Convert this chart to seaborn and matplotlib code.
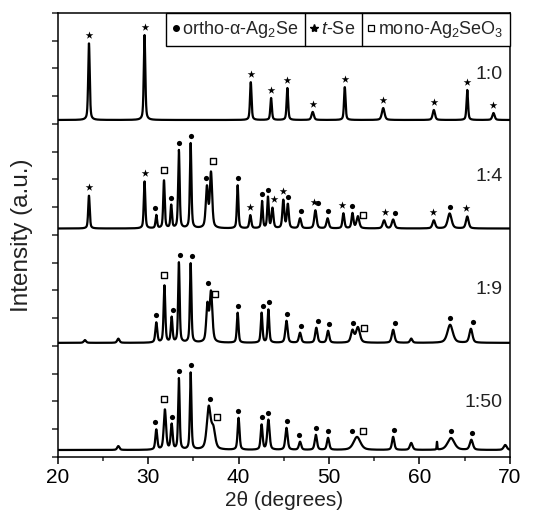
import numpy as np
import pandas as pd
import matplotlib
matplotlib.use('Agg')
import matplotlib.pyplot as plt
from matplotlib.lines import Line2D
import seaborn as sns

# samples (top to bottom) and the vertical offset of each pattern
samples = ['1:0', '1:4', '1:9', '1:50']
offsets = [12.14, 8.23, 4.11, 0.25]

# peaks: position (2theta), height (a.u.), FWHM (deg)
pos_10 = [23.45, 29.6, 41.35, 43.6, 45.4, 48.2, 51.75, 56.0, 61.6, 65.3, 68.2]
hgt_10 = [2.78, 3.06, 1.37, 0.79, 1.15, 0.29, 1.19, 0.43, 0.36, 1.08, 0.25]
wid_10 = [0.2, 0.2, 0.2, 0.2, 0.2, 0.3, 0.2, 0.35, 0.3, 0.2, 0.3]

pos_14 = [23.45, 29.6, 30.9, 31.75, 32.55, 33.4, 34.7, 36.5, 36.95, 39.9, 41.3, 42.6,
          43.25, 43.75, 44.95, 45.45, 46.8, 48.5, 49.85, 51.6, 52.6, 53.2, 56.1,
          57.1, 61.6, 63.35, 65.3]
hgt_14 = [1.19, 1.69, 0.47, 1.73, 0.83, 2.81, 3.06, 1.45, 1.98, 1.55, 0.47, 0.97,
          1.12, 0.72, 1.01, 0.86, 0.36, 0.65, 0.36, 0.54, 0.54, 0.43, 0.29,
          0.32, 0.29, 0.54, 0.43]
wid_14 = [0.2, 0.2, 0.2, 0.2, 0.2, 0.2, 0.2, 0.3, 0.3, 0.2, 0.25, 0.2,
          0.2, 0.25, 0.25, 0.25, 0.3, 0.3, 0.3, 0.25, 0.25, 0.35, 0.35,
          0.35, 0.35, 0.5, 0.35]

pos_19 = [23.0, 26.7, 30.9, 31.8, 32.6, 33.4, 34.7, 36.55, 36.95, 39.9, 42.55, 43.3,
          45.3, 46.8, 48.6, 49.9, 52.6, 53.2, 57.1, 59.1, 63.4, 65.7]
hgt_19 = [0.1, 0.15, 0.72, 2.05, 0.9, 2.88, 2.85, 1.3, 1.8, 1.08, 1.08, 1.19,
          0.79, 0.36, 0.54, 0.43, 0.43, 0.55, 0.47, 0.15, 0.65, 0.5]
wid_19 = [0.3, 0.3, 0.25, 0.22, 0.22, 0.2, 0.2, 0.3, 0.35, 0.22, 0.22, 0.22,
          0.3, 0.3, 0.3, 0.3, 0.4, 0.5, 0.35, 0.3, 0.7, 0.4]

pos_150 = [26.7, 30.9, 31.85, 32.6, 33.4, 34.7, 36.7, 37.2, 40.0, 42.55, 43.3, 45.3,
           46.8, 48.55, 49.9, 53.1, 57.1, 59.1, 61.95, 63.5, 65.75, 69.5]
hgt_150 = [0.14, 0.72, 1.44, 0.9, 2.56, 2.77, 1.5, 0.7, 1.15, 0.9, 1.08, 0.79,
           0.29, 0.54, 0.43, 0.47, 0.47, 0.25, 0.29, 0.43, 0.36, 0.18]
wid_150 = [0.3, 0.25, 0.3, 0.25, 0.2, 0.2, 0.5, 0.5, 0.25, 0.25, 0.3, 0.3,
           0.3, 0.3, 0.3, 0.9, 0.3, 0.35, 0.08, 0.9, 0.4, 0.4]

# phase markers: o = ortho-alpha-Ag2Se, t = t-Se, m = mono-Ag2SeO3
mk_10_x = pos_10
mk_10_p = ['t'] * 11
mk_14_x = [23.45, 29.6, 30.8, 31.7, 32.5, 33.4, 34.7, 36.4, 37.15, 39.9, 41.3, 42.6,
           43.3, 43.9, 44.9, 45.5, 46.9, 48.3, 48.8, 49.9, 51.45, 52.6, 53.8,
           56.2, 57.3, 61.5, 63.4, 65.2]
mk_14_p = ['t', 't', 'o', 'm', 'o', 'o', 'o', 'o', 'm', 'o', 't', 'o',
           'o', 't', 't', 'o', 'o', 't', 'o', 'o', 't', 'o', 'm',
           't', 'o', 't', 'o', 't']
mk_19_x = [30.9, 31.8, 32.7, 33.5, 34.8, 36.6, 37.4, 39.9, 42.7, 43.4, 45.4, 46.9,
           48.8, 50.0, 52.7, 53.9, 57.3, 63.4, 65.9]
mk_19_p = ['o', 'm', 'o', 'o', 'o', 'o', 'm', 'o', 'o', 'o', 'o', 'o',
           'o', 'o', 'o', 'm', 'o', 'o', 'o']
mk_150_x = [30.8, 31.8, 32.6, 33.4, 34.7, 36.8, 37.6, 39.9, 42.6, 43.3, 45.4, 46.7,
            48.6, 49.9, 52.6, 53.8, 57.2, 63.5, 65.8]
mk_150_p = ['o', 'm', 'o', 'o', 'o', 'o', 'm', 'o', 'o', 'o', 'o', 'o',
            'o', 'o', 'o', 'm', 'o', 'o', 'o']

peak_sets = [(pos_10, hgt_10, wid_10), (pos_14, hgt_14, wid_14),
             (pos_19, hgt_19, wid_19), (pos_150, hgt_150, wid_150)]
mark_sets = [(mk_10_x, mk_10_p), (mk_14_x, mk_14_p),
             (mk_19_x, mk_19_p), (mk_150_x, mk_150_p)]

two_theta = np.arange(20, 70.001, 0.02)


def pattern(pos, hgt, wid):
    y = np.zeros_like(two_theta)
    for p, h, w in zip(pos, hgt, wid):
        d = (two_theta - p) / (w / 2)
        y += h * (0.5 / (1 + d ** 2) + 0.5 * np.exp(-np.log(2) * d ** 2))
    return y


rows = []
marks = []
pad = {'o': 0.25, 't': 0.3, 'm': 0.38}
for name, off, (pos, hgt, wid), (mx, mp) in zip(samples, offsets, peak_sets, mark_sets):
    y = off + pattern(pos, hgt, wid)
    rows.append(pd.DataFrame({'two_theta': two_theta, 'intensity': y, 'sample': name}))
    for x0, ph in zip(mx, mp):
        near = np.abs(two_theta - x0) <= 0.35
        marks.append({'x': x0, 'y': y[near].max() + pad[ph], 'phase': ph})
df = pd.concat(rows, ignore_index=True)
df_marks = pd.DataFrame(marks)

sns.set_theme(style='ticks')
plt.rcParams['font.family'] = ['Liberation Sans', 'DejaVu Sans']
plt.rcParams['mathtext.fontset'] = 'custom'
plt.rcParams['mathtext.rm'] = 'Liberation Sans'
plt.rcParams['mathtext.it'] = 'Liberation Sans:italic'

fig, ax = plt.subplots(figsize=(5.4, 5.14), dpi=100)
fig.subplots_adjust(left=0.107, right=0.944, bottom=0.111, top=0.975)

sns.lineplot(data=df, x='two_theta', y='intensity', units='sample', estimator=None,
             color='black', lw=1.6, ax=ax, legend=False)

sns.scatterplot(data=df_marks[df_marks.phase == 'o'], x='x', y='y', marker='o', s=14,
                color='black', edgecolor='black', linewidth=0, ax=ax, legend=False)
sns.scatterplot(data=df_marks[df_marks.phase == 't'], x='x', y='y', marker='*', s=34,
                color='black', edgecolor='black', linewidth=0, ax=ax, legend=False)
sns.scatterplot(data=df_marks[df_marks.phase == 'm'], x='x', y='y', marker='s', s=22,
                color='white', edgecolor='black', linewidth=1, ax=ax, legend=False)

# sample ratio labels
label_y = [13.77, 10.09, 6.02, 1.96]
for name, ly in zip(samples, label_y):
    ax.text(69.25, ly, name, ha='right', va='center', fontsize=14, color='#222222')

ax.set_xlim(20, 70)
ax.set_ylim(0, 16)
ax.set_xticks([20, 30, 40, 50, 60, 70])
ax.set_xticks([25, 35, 45, 55, 65], minor=True)
ax.set_yticks(np.arange(0, 17, 1))
ax.set_yticklabels([])
ax.tick_params(axis='x', which='major', direction='out', length=5, width=1.1,
               labelsize=15, pad=3, colors='black')
ax.tick_params(axis='x', which='minor', direction='out', length=3, width=1.1)
ax.tick_params(axis='y', direction='out', length=4, width=1.1)
for s in ax.spines.values():
    s.set_visible(True)
    s.set_linewidth(1.1)
    s.set_color('black')
ax.set_xlabel('2θ (degrees)', fontsize=15, labelpad=3, color='#222222')
ax.set_ylabel('Intensity (a.u.)', fontsize=17.5, labelpad=10, color='#222222')

# legend with boxed entries
handles = [Line2D([], [], ls='none', marker='o', ms=4, color='black'),
           Line2D([], [], ls='none', marker='*', ms=6, color='black'),
           Line2D([], [], ls='none', marker='s', ms=5, mfc='white', mec='black', mew=0.9)]
labels = ['ortho-α-Ag$_2$Se', '$t$-Se', 'mono-Ag$_2$SeO$_3$']
leg_fs = 13
leg_cs = 0.7
leg = ax.legend(handles, labels, ncol=3, loc='upper right', bbox_to_anchor=(1, 1),
                borderaxespad=0, fontsize=leg_fs, frameon=True, fancybox=False,
                edgecolor='black', framealpha=1, handlelength=0.35, handletextpad=0.2,
                columnspacing=leg_cs, borderpad=0.35)
leg.get_frame().set_linewidth(1.0)

fig.canvas.draw()
renderer = fig.canvas.get_renderer()
fs_px = leg_fs * fig.dpi / 72
lbb = leg.get_window_extent(renderer)
inv = fig.transFigure.inverted()
for t in leg.get_texts()[:-1]:
    xs = t.get_window_extent(renderer).x1 + leg_cs * fs_px / 2
    (x0, y0), (x1, y1) = inv.transform([(xs, lbb.y0), (xs, lbb.y1)])
    fig.add_artist(Line2D([x0, x1], [y0, y1], color='black', lw=1.0))

fig.savefig('out.png', dpi=100)
